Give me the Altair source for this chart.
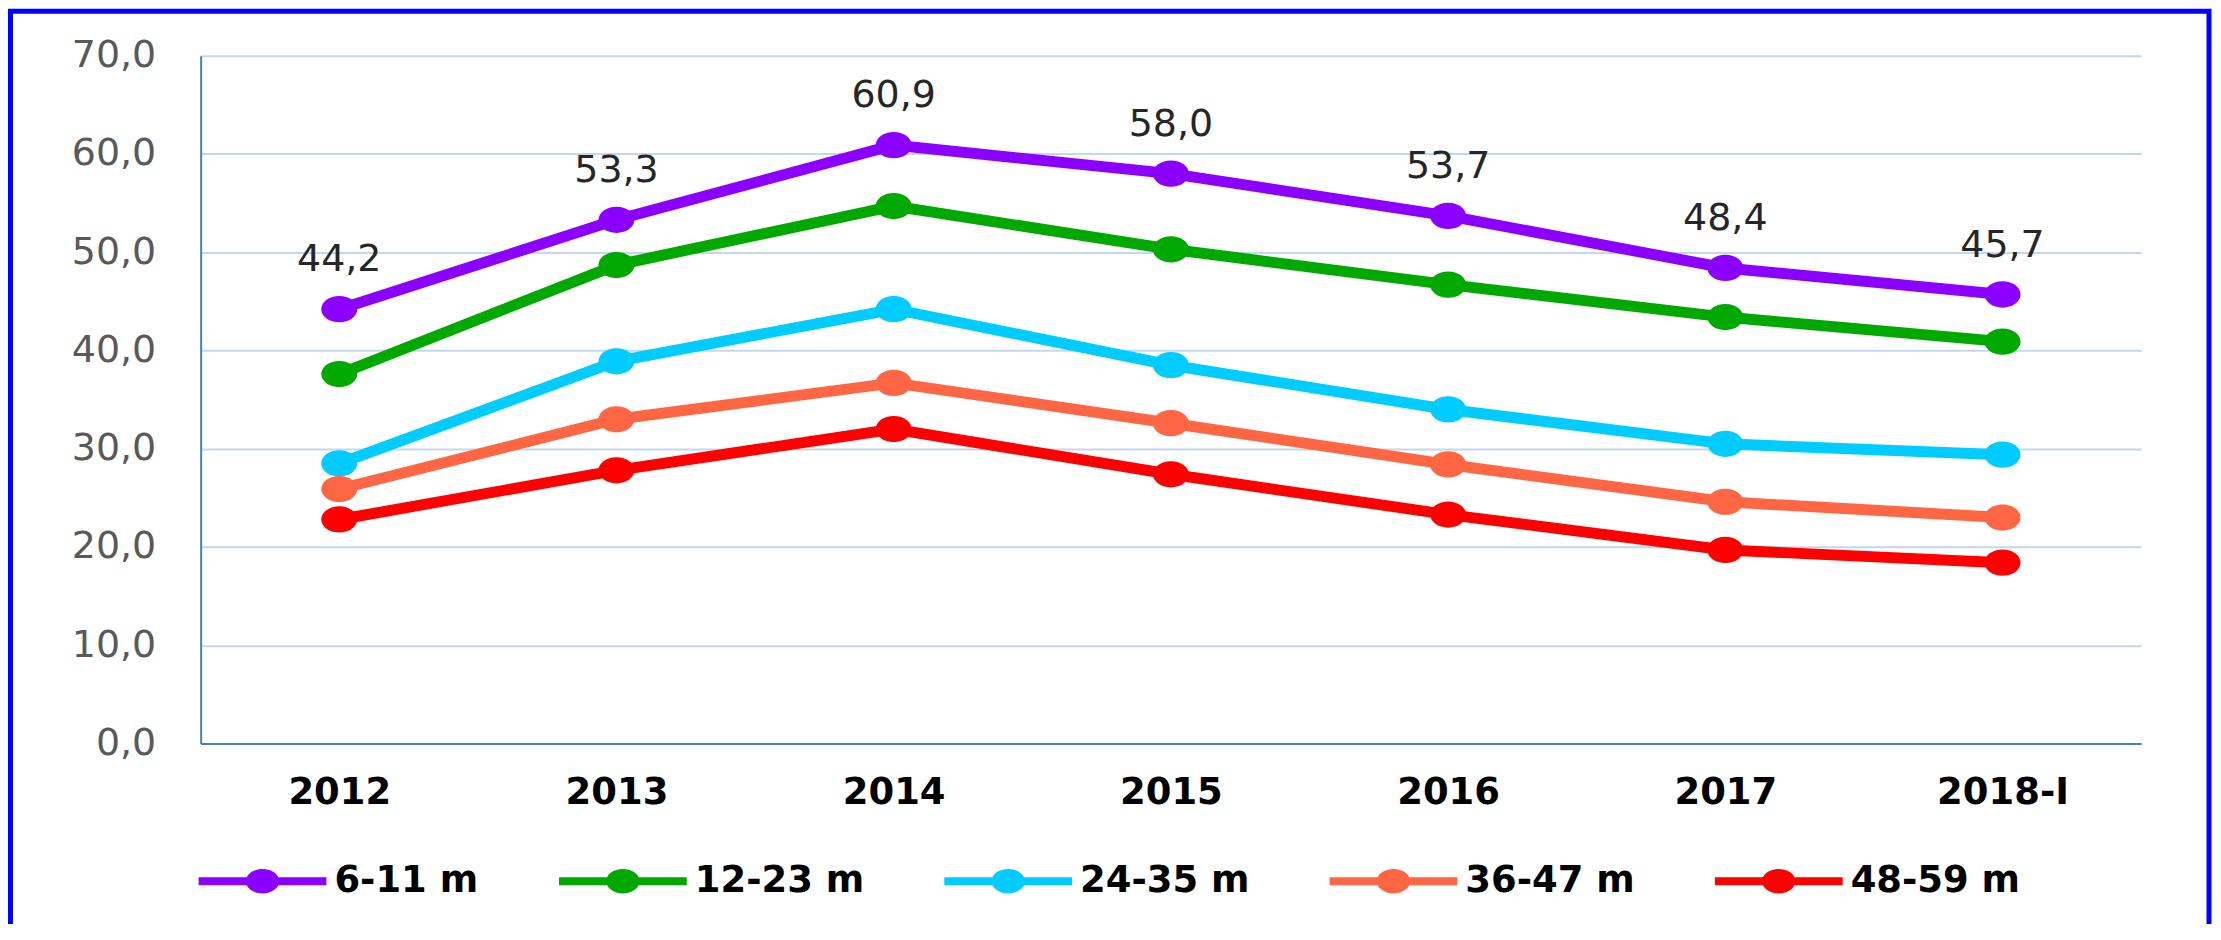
import altair as alt
import pandas as pd

years = ["2012", "2013", "2014", "2015", "2016", "2017", "2018-I"]
series_names = ["6-11 m", "12-23 m", "24-35 m", "36-47 m", "48-59 m"]
colors = ["#8C00FF", "#00A800", "#00CCFF", "#FF6644", "#FF0000"]

v_6_11 = [44.2, 53.3, 60.9, 58.0, 53.7, 48.4, 45.7]
v_12_23 = [37.6, 48.7, 54.7, 50.3, 46.7, 43.4, 40.9]
v_24_35 = [28.5, 38.9, 44.2, 38.5, 34.0, 30.5, 29.4]
v_36_47 = [25.9, 33.0, 36.7, 32.6, 28.4, 24.6, 23.0]
v_48_59 = [22.8, 27.8, 32.0, 27.4, 23.3, 19.7, 18.4]

y_ticks = [0, 10, 20, 30, 40, 50, 60, 70]

all_values = [v_6_11, v_12_23, v_24_35, v_36_47, v_48_59]
rows = []
for name, vals in zip(series_names, all_values):
    for yr, v in zip(years, vals):
        rows.append({"year": yr, "series": name, "value": v})
df = pd.DataFrame(rows)

FONT = "DejaVu Sans"

x_enc = alt.X(
    "year:N",
    sort=years,
    title=None,
    axis=alt.Axis(
        labelAngle=0,
        ticks=False,
        grid=False,
        domainColor="#4A7EBB",
        domainWidth=2,
        labelFont=FONT,
        labelFontSize=37,
        labelFontWeight="bold",
        labelColor="#000000",
        labelPadding=31,
    ),
)
y_enc = alt.Y(
    "value:Q",
    title=None,
    scale=alt.Scale(domain=[0, 70], nice=False),
    axis=alt.Axis(
        values=y_ticks,
        ticks=False,
        grid=True,
        gridColor="#C2D8EF",
        gridWidth=2,
        domainColor="#4A7EBB",
        domainWidth=2,
        labelFont=FONT,
        labelFontSize=38,
        labelColor="#595959",
        labelPadding=45,
        labelExpr="replace(format(datum.value, '.1f'), '.', ',')",
    ),
)
color_scale = alt.Scale(domain=series_names, range=colors)

legend_path = (
    "M-1,-0.0625H1V0.0625H-1Z"
    "M-0.262,0A0.262,0.19,0,1,1,0.262,0A0.262,0.19,0,1,1,-0.262,0Z"
)
ellipse_path = "M-1,0A1,0.73,0,1,1,1,0A1,0.73,0,1,1,-1,0Z"

legend = alt.Legend(
    title=None,
    orient="none",
    direction="horizontal",
    legendX=-2,
    legendY=763,
    symbolType=legend_path,
    symbolSize=16384,
    symbolStrokeWidth=0,
    symbolOpacity=1,
    labelFont=FONT,
    labelFontSize=37,
    labelFontWeight="bold",
    labelColor="#000000",
    labelOffset=8,
    columnPadding=80,
    labelLimit=400,
    padding=0,
)
color_enc = alt.Color("series:N", scale=color_scale, sort=series_names, legend=legend)

base = alt.Chart(df)

lines = base.mark_line(strokeWidth=11).encode(
    x=x_enc,
    y=y_enc,
    color=color_enc,
)

points = base.mark_point(
    filled=True, opacity=1, size=1300, shape=ellipse_path, strokeWidth=0
).encode(
    x=alt.X("year:N", sort=years),
    y="value:Q",
    color=color_enc,
)

labels = (
    base.transform_filter(alt.datum.series == "6-11 m")
    .transform_calculate(lab="replace(format(datum.value, '.1f'), '.', ',')")
    .mark_text(
        font=FONT, fontSize=38, color="#262626", baseline="alphabetic", dy=-38
    )
    .encode(x=alt.X("year:N", sort=years), y="value:Q", text="lab:N")
)

frame = (
    alt.Chart(pd.DataFrame({"a": [0]}))
    .mark_rect(fill=None, stroke="#0000FF", strokeWidth=5)
    .encode(
        x=alt.value(-190.5),
        x2=alt.value(2012),
        y=alt.value(-44.5),
        y2=alt.value(1000),
    )
)

chart = (
    alt.layer(frame, lines, points, labels)
    .properties(
        width=1944,
        height=689,
        padding={"left": 193, "top": 47, "right": 72, "bottom": 180},
        autosize=alt.AutoSizeParams(type="none"),
        background="#FFFFFF",
    )
    .configure_view(stroke=None)
)

chart.save("out.html", embed_options={"renderer": "svg", "actions": False})
